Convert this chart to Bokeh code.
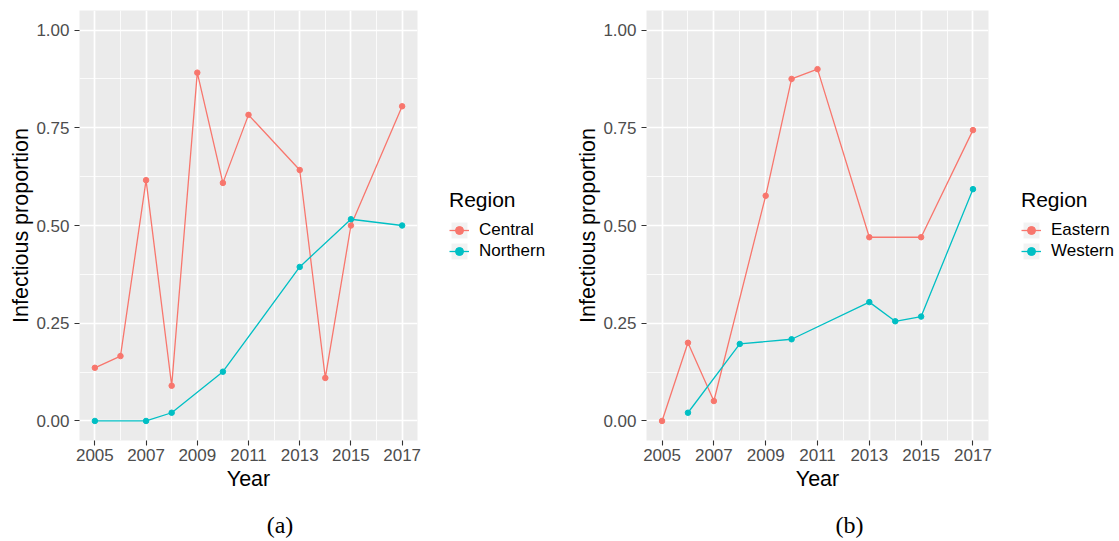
from bokeh.plotting import figure
from bokeh.layouts import row, column
from bokeh.models import (Range1d, FixedTicker, NumeralTickFormatter, Legend,
                          LegendItem, Div)
from bokeh.embed import file_html
from bokeh.resources import INLINE

# ---- data ----
central_years = [2005, 2006, 2007, 2008, 2009, 2010, 2011, 2013, 2014, 2015, 2017]
central = [0.136, 0.166, 0.616, 0.090, 0.891, 0.609, 0.783, 0.642, 0.110, 0.500, 0.805]
northern_years = [2005, 2007, 2008, 2010, 2013, 2015, 2017]
northern = [0.000, 0.000, 0.021, 0.126, 0.394, 0.516, 0.500]

eastern_years = [2005, 2006, 2007, 2009, 2010, 2011, 2013, 2015, 2017]
eastern = [0.000, 0.200, 0.051, 0.576, 0.875, 0.900, 0.470, 0.470, 0.744]
western_years = [2006, 2008, 2010, 2013, 2014, 2015, 2017]
western = [0.021, 0.197, 0.209, 0.304, 0.255, 0.267, 0.593]

x_major = [2005, 2007, 2009, 2011, 2013, 2015, 2017]
x_minor = [2006, 2008, 2010, 2012, 2014, 2016]
y_major = [0.0, 0.25, 0.5, 0.75, 1.0]
y_minor = [0.125, 0.375, 0.625, 0.875]

RED = "#F8766D"
CYAN = "#00BFC4"
FONT = "Liberation Sans"
H = 506


def make_panel(width, mbl, series):
    p = figure(width=width, height=H, output_backend="svg", toolbar_location=None,
               x_range=Range1d(2004.4, 2017.6), y_range=Range1d(-0.05, 1.05),
               min_border_left=mbl, min_border_right=10, min_border_top=10,
               min_border_bottom=66)
    p.background_fill_color = "#EBEBEB"
    p.border_fill_color = "white"
    p.outline_line_color = None

    p.xaxis.ticker = FixedTicker(ticks=x_major, minor_ticks=x_minor)
    p.yaxis.ticker = FixedTicker(ticks=y_major, minor_ticks=y_minor)
    p.yaxis.formatter = NumeralTickFormatter(format="0.00")
    for ax in (p.xaxis, p.yaxis):
        ax.axis_line_color = None
        ax.major_tick_line_color = "#333333"
        ax.major_tick_line_width = 1.1
        ax.major_tick_out = 5
        ax.major_tick_in = 0
        ax.minor_tick_out = 0
        ax.minor_tick_in = 0
        ax.major_label_text_color = "#4D4D4D"
        ax.major_label_text_font = FONT
        ax.major_label_text_font_size = "17px"
        ax.axis_label_text_font = FONT
        ax.axis_label_text_font_size = "21.5px"
        ax.axis_label_text_font_style = "normal"
        ax.axis_label_text_color = "black"
    p.xaxis.axis_label = "Year"
    p.yaxis.axis_label = "Infectious proportion"
    p.xaxis.major_label_standoff = 3
    p.yaxis.major_label_standoff = 5
    p.xaxis.axis_label_standoff = 3
    p.yaxis.axis_label_standoff = 0

    for g in (p.xgrid, p.ygrid):
        g.grid_line_color = "white"
        g.grid_line_width = 1.7
        g.minor_grid_line_color = "white"
        g.minor_grid_line_width = 0.8

    for name, xs, ys, col in series:
        p.line(xs, ys, line_color=col, line_width=1.3)
        p.scatter(xs, ys, size=5.5, fill_color=col, line_color=col)
    return p


def make_legend(width, lx, series):
    # a blank strip holding the legend; its glyph renderers lie outside its view
    q = figure(width=width, height=H, output_backend="svg", toolbar_location=None,
               x_axis_type=None, y_axis_type=None,
               x_range=Range1d(0, 1), y_range=Range1d(5, 6),
               min_border=0, min_border_left=0, min_border_right=0,
               min_border_top=0, min_border_bottom=0)
    q.xgrid.visible = False
    q.ygrid.visible = False
    q.outline_line_color = None
    q.background_fill_color = "white"
    q.border_fill_color = "white"
    items = []
    for name, xs, ys, col in series:
        bg = q.rect(x=xs, y=ys, width=1, height=1, fill_color="#F2F2F2", line_color=None)
        ln = q.line(xs, ys, line_color=col, line_width=1.3)
        sc = q.scatter(xs, ys, size=5.5, fill_color=col, line_color=col)
        items.append(LegendItem(label=name, renderers=[bg, ln, sc]))
    leg = Legend(items=items, title="Region", location=(lx, 179),
                 margin=0, padding=0, spacing=1,
                 glyph_width=20, glyph_height=20, label_height=20, label_width=20,
                 label_standoff=10, title_standoff=8,
                 label_text_font=FONT, label_text_font_size="17px",
                 label_text_color="black",
                 title_text_font=FONT, title_text_font_size="21px",
                 title_text_font_style="normal", title_text_color="black",
                 background_fill_alpha=0, border_line_color=None)
    q.add_layout(leg, "center")
    return q


def caption(text, width):
    return Div(text=text, width=width, height=35, margin=0,
               styles={"text-align": "center", "font-family": "Liberation Serif",
                       "font-size": "24px", "color": "black",
                       "padding-top": "6px", "line-height": "26px"})


s1 = [("Central", central_years, central, RED),
      ("Northern", northern_years, northern, CYAN)]
s2 = [("Eastern", eastern_years, eastern, RED),
      ("Western", western_years, western, CYAN)]

p1 = make_panel(427, 79, s1)
l1 = make_legend(139, 22, s1)
p2 = make_panel(432, 80, s2)
l2 = make_legend(121, 23, s2)

captions = row(caption("(a)", 560), Div(text="", width=20, height=35, margin=0),
               caption("(b)", 539))
layout = column(row(p1, l1, p2, l2), captions)
open("out.html", "w").write(file_html(layout, INLINE))
